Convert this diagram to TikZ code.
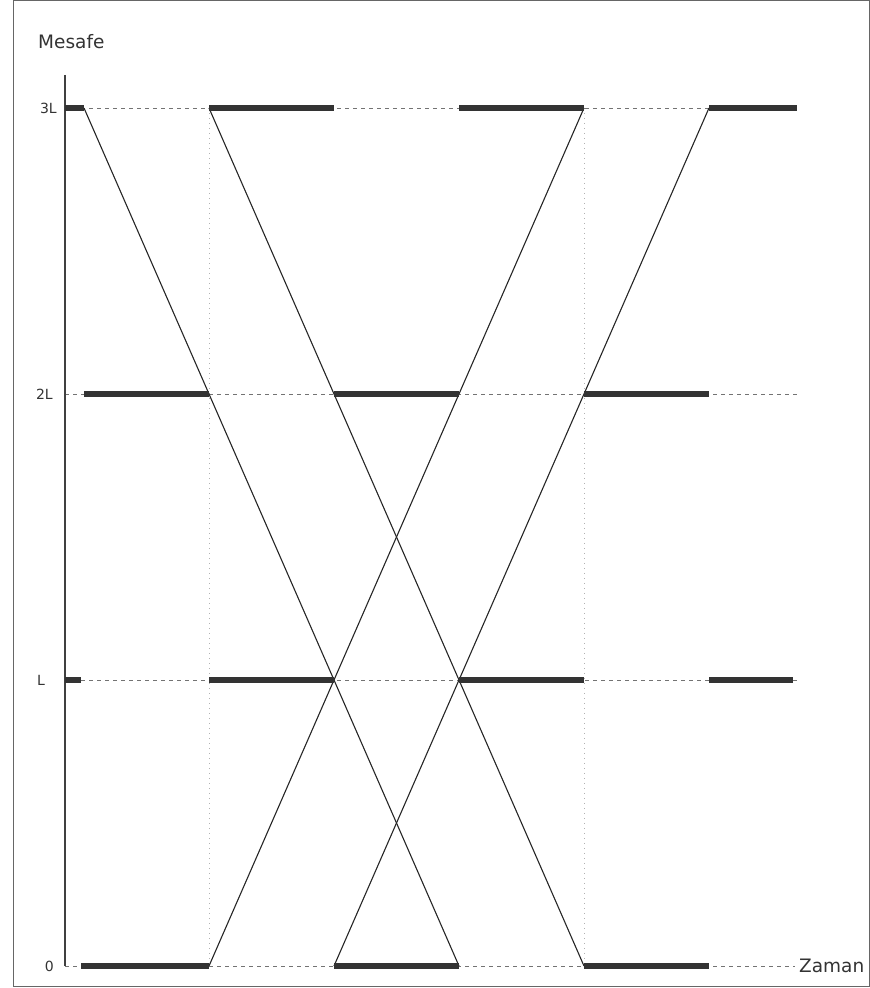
\documentclass[tikz,border=0pt]{standalone}
\usepackage{fontspec}
\setmainfont{DejaVu Sans}
\begin{document}
\begin{tikzpicture}[
            x=1pt,
            y=1pt,
            bar/.style={line width=6pt, draw=black!80},
            ray/.style={line width=1.1pt, draw=black!85},
            guide/.style={dash pattern=on 4pt off 4pt, line width=0.9pt, draw=black!55},
            vguide/.style={dash pattern=on 1pt off 4pt, line width=0.9pt, draw=black!30},
            every node/.style={
                inner sep=0pt,
                text=black!80,
                font=\fontsize{14}{14}\selectfont
            }
        ]
            \useasboundingbox (0,0) rectangle (870,988);
            \draw[black!60, line width=1pt] (13,1) rectangle (869,987);

            % axis and levels
            \coordinate (axtop) at (65,913);
            \coordinate (ax0) at (65,22);
            \coordinate (ax1) at (65,308);
            \coordinate (ax2) at (65,594);
            \coordinate (ax3) at (65,880);
            \coordinate (e0) at (795,22);
            \coordinate (e1) at (797,308);
            \coordinate (e2) at (797,594);
            \coordinate (e3) at (797,880);
            \coordinate (s1) at (81,308);
            \coordinate (b1) at (793,308);

            % level 3L
            \coordinate (p03) at (84,880);
            \coordinate (p13) at (209,880);
            \coordinate (p23) at (334,880);
            \coordinate (p33) at (459,880);
            \coordinate (p43) at (584,880);
            \coordinate (p53) at (709,880);
            % level 2L
            \coordinate (p02) at (84,594);
            \coordinate (p12) at (209,594);
            \coordinate (p22) at (334,594);
            \coordinate (p32) at (459,594);
            \coordinate (p42) at (584,594);
            \coordinate (p52) at (709,594);
            % level L
            \coordinate (p11) at (209,308);
            \coordinate (p21) at (334,308);
            \coordinate (p31) at (459,308);
            \coordinate (p41) at (584,308);
            \coordinate (p51) at (709,308);
            % level 0
            \coordinate (p00) at (81,22);
            \coordinate (p10) at (209,22);
            \coordinate (p20) at (334,22);
            \coordinate (p30) at (459,22);
            \coordinate (p40) at (584,22);
            \coordinate (p50) at (709,22);

            \node[anchor=west, font=\fontsize{18.5}{18.5}\selectfont] (mesafe) at (38,946) {Mesafe};
            \node[anchor=west, font=\fontsize{18.5}{18.5}\selectfont] (zaman) at (799,22) {Zaman};
            \node[anchor=east] (l3) at (57,880) {3L};
            \node[anchor=east] (l2) at (53,594) {2L};
            \node[anchor=east] (l1) at (45,308) {L};
            \node[anchor=east] (l0) at (54,22) {0};

            \draw[guide] (ax3)--(e3);
            \draw[guide] (ax2)--(e2);
            \draw[guide] (ax1)--(e1);
            \draw[guide] (ax0)--(e0);
            \draw[vguide] (p13)--(p10);
            \draw[vguide] (p43)--(p40);

            \draw[black!75, line width=1.2pt] (axtop)--(ax0);

            \draw[ray] (p03)--(p30);
            \draw[ray] (p13)--(p40);
            \draw[ray] (p10)--(p43);
            \draw[ray] (p20)--(p53);

            \draw[bar] (ax3)--(p03);
            \draw[bar] (p13)--(p23);
            \draw[bar] (p33)--(p43);
            \draw[bar] (p53)--(e3);
            \draw[bar] (p02)--(p12);
            \draw[bar] (p22)--(p32);
            \draw[bar] (p42)--(p52);
            \draw[bar] (ax1)--(s1);
            \draw[bar] (p11)--(p21);
            \draw[bar] (p31)--(p41);
            \draw[bar] (p51)--(b1);
            \draw[bar] (p00)--(p10);
            \draw[bar] (p20)--(p30);
            \draw[bar] (p40)--(p50);
        \end{tikzpicture}
\end{document}
